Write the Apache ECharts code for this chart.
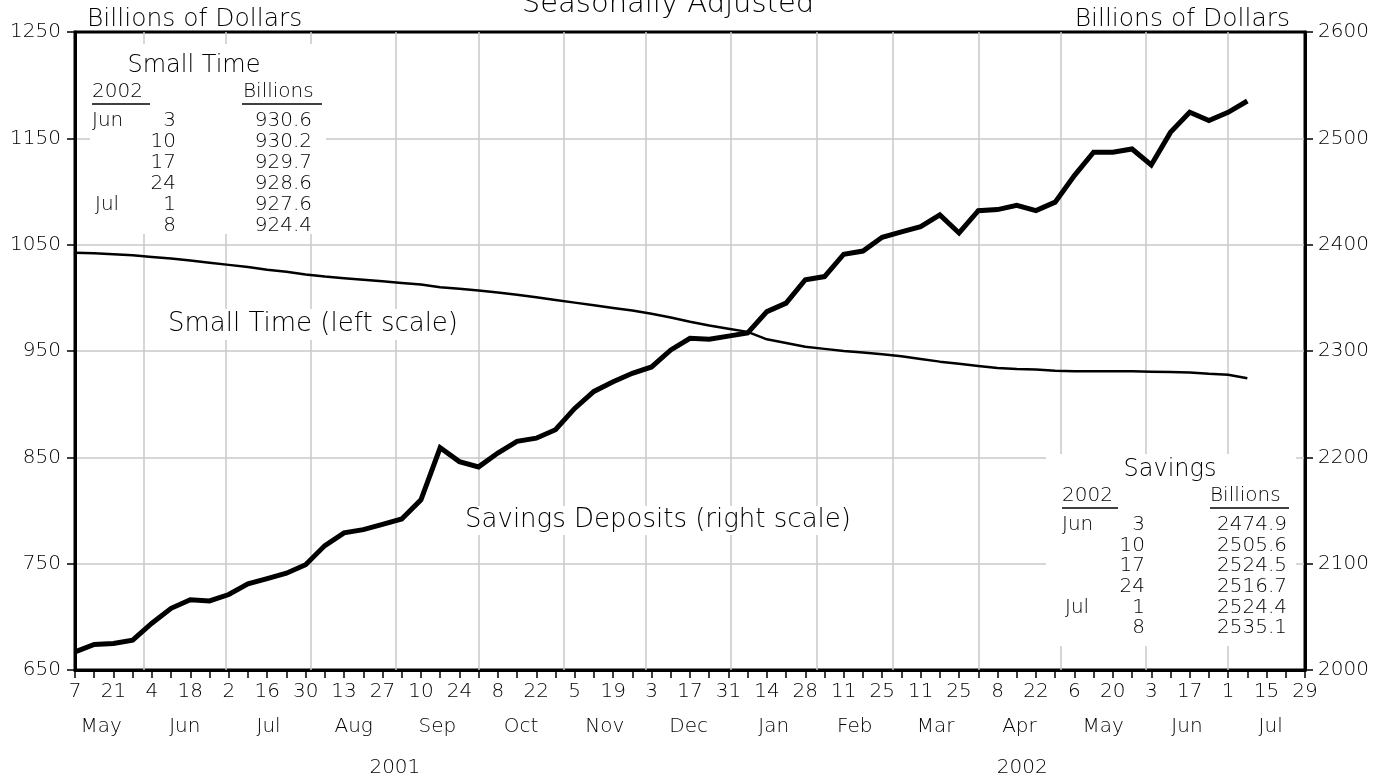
<!DOCTYPE html>
<html><head><meta charset="utf-8">
<script src="https://cdn.jsdelivr.net/npm/echarts@6/dist/echarts.min.js"></script>
<style>html,body{margin:0;padding:0;background:#fff}#c{width:1387px;height:780px}</style>
</head><body><div id="c"></div>
<script>
// ---- data ----
const dayLabels = ['7','21','4','18','2','16','30','13','27','10','24','8','22','5','19','3','17','31','14','28','11','25','11','25','8','22','6','20','3','17','1','15','29'];
const monthLabels = ['May','Jun','Jul','Aug','Sep','Oct','Nov','Dec','Jan','Feb','Mar','Apr','May','Jun','Jul'];
const yearLabels = ['2001','2002'];
// weekly values, May 7 2001 .. Jul 8 2002
const smallTime = [1042.5,1042,1041,1040,1038.5,1037,1035,1033,1031,1029,1026.5,1024.5,1022,1020,1018.5,1017,1015.5,1014,1012.5,1010,1008.5,1007,1005,1003,1000.5,998,995.5,993,990.5,988,985,981.5,977.5,974,971,968,961,957.5,954,952,950,948.5,947,945,942.5,940,938,936,934,933,932.5,931.5,931,931,931,931,930.6,930.2,929.7,928.6,927.6,924.4];
const savings = [2017,2024,2025,2028,2044,2058,2066,2065,2071,2081,2086,2091,2099,2117,2129,2132,2137,2142,2160,2209,2196,2191,2204,2215,2218,2226,2246,2262,2271,2279,2285,2301,2312,2311,2314,2317,2337,2345,2367,2370,2391,2394,2407,2412,2417,2428,2411,2432,2433,2437,2432,2440,2465,2487,2487,2490,2474.9,2505.6,2524.5,2516.7,2524.4,2535.1];
const tableMonths = ['Jun','','','','Jul',''];
const tableDays = ['3','10','17','24','1','8'];
const smallTimeTable = ['930.6','930.2','929.7','928.6','927.6','924.4'];
const savingsTable = ['2474.9','2505.6','2524.5','2516.7','2524.4','2535.1'];

// ---- layout helpers ----
const FONT = 'DejaVu Sans';
const T0 = Date.UTC(2001,4,7);
const wk = (y,m,d) => (Date.UTC(y,m,d) - T0) / (7*86400000);
const monthStarts = [];
for (let k = 5; k <= 18; k++) monthStarts.push(wk(2001,k,1));
const monthMids = [];
for (let k = 4; k <= 18; k++) monthMids.push((wk(2001,k,1) + wk(2001,k+1,1)) / 2);
const yearMids = [(wk(2001,4,1) + wk(2002,0,1)) / 2, (wk(2002,0,1) + wk(2002,7,1)) / 2];
const nearestLabel = (vals, labels, v) => {
  let bi = 0, bd = 1e9;
  vals.forEach((x,i) => { const d = Math.abs(x - v); if (d < bd) { bd = d; bi = i; } });
  return bd < 0.01 ? labels[bi] : '';
};

const stData = smallTime.map((v,i) => [i, v]);
const svData = savings.map((v,i) => [i, v]);

const lab = {color:'#000', fontFamily: FONT, fontSize: 20, fontWeight: 200};
const txt = (text, x, y, size, align) => ({type:'text', x, y, z: 20, style:{text, font: '200 ' + size + 'px "' + FONT + '"', fill:'#000', textAlign: align || 'left', textVerticalAlign:'middle'}});
const rect = (x, y, w, h) => ({type:'rect', z: 15, shape:{x, y, width:w, height:h}, style:{fill:'#fff'}});
const uline = (x1, x2, y) => ({type:'line', z: 20, shape:{x1, y1:y, x2, y2:y}, style:{stroke:'#000', lineWidth:1.5}});

const graphics = [
  txt('Billions of Dollars', 87, 19, 25),
  txt('Billions of Dollars', 1290, 19, 25, 'right'),
  txt('Seasonally Adjusted', 668, 4, 29, 'center'),
  rect(160, 309, 306, 31), txt('Small Time (left scale)', 313, 324, 26, 'center'),
  rect(460, 506, 398, 29), txt('Savings Deposits (right scale)', 658, 520, 26, 'center'),
  rect(90, 44, 236, 190),
  txt('Small Time', 194, 66, 24, 'center'),
  txt('2002', 92, 92, 20), uline(92, 150, 104),
  txt('Billions', 243, 92, 20), uline(242, 322, 104),
  rect(1046, 454, 250, 192),
  txt('Savings', 1170, 470, 24, 'center'),
  txt('2002', 1062, 496, 20), uline(1062, 1118, 508),
  txt('Billions', 1210, 496, 20), uline(1210, 1289, 508)
];
tableDays.forEach((d,i) => {
  const y1 = 121 + i*20.9, y2 = 525 + i*20.6;
  if (tableMonths[i]) {
    graphics.push(txt(tableMonths[i], tableMonths[i]==='Jul' ? 95 : 92, y1, 20));
    graphics.push(txt(tableMonths[i], tableMonths[i]==='Jul' ? 1065 : 1062, y2, 20));
  }
  graphics.push(txt(d, 176, y1, 20, 'right'));
  graphics.push(txt(smallTimeTable[i], 312, y1, 20, 'right'));
  graphics.push(txt(d, 1145, y2, 20, 'right'));
  graphics.push(txt(savingsTable[i], 1287, y2, 20, 'right'));
});

const gridColor = '#c8c8c8';
const chart = echarts.init(document.getElementById('c'), null, {renderer:'canvas'});
chart.setOption({
  animation: false,
  backgroundColor: '#fff',
  grid: {left: 75, right: 82, top: 32, bottom: 110, show: true, borderColor: '#000', borderWidth: 3, backgroundColor: 'transparent'},
  xAxis: [
    {type:'value', min:0, max:64, interval:1, position:'bottom',
     axisLine:{show:true, onZero:false, lineStyle:{color:'#000', width:3}},
     axisTick:{show:true, length:8, lineStyle:{color:'#000', width:1.5}},
     axisLabel:Object.assign({}, lab, {margin:12, formatter: v => (v % 2 === 0 ? dayLabels[v/2] : '')}),
     splitLine:{show:false}},
    {type:'value', min:0, max:64, position:'bottom',
     axisLine:{show:false}, axisTick:{show:false},
     axisLabel:Object.assign({}, lab, {margin:47, customValues: monthMids, formatter: v => nearestLabel(monthMids, monthLabels, v)}),
     splitLine:{show:false}},
    {type:'value', min:0, max:64, position:'bottom',
     axisLine:{show:false}, axisTick:{show:false},
     axisLabel:Object.assign({}, lab, {margin:88, customValues: yearMids, formatter: v => nearestLabel(yearMids, yearLabels, v)}),
     splitLine:{show:false}}
  ],
  yAxis: [
    {type:'value', min:650, max:1250, interval:100, position:'left',
     axisLine:{show:true, onZero:false, lineStyle:{color:'#000', width:3}},
     axisTick:{show:true, length:8, lineStyle:{color:'#000', width:1.5}},
     axisLabel:Object.assign({}, lab, {margin:14, formatter: v => String(v)}),
     splitLine:{show:true, showMinLine:false, showMaxLine:false, lineStyle:{color:gridColor, width:1.5}}},
    {type:'value', min:2000, max:2600, interval:100, position:'right',
     axisLine:{show:true, onZero:false, lineStyle:{color:'#000', width:3}},
     axisTick:{show:true, length:8, lineStyle:{color:'#000', width:1.5}},
     axisLabel:Object.assign({}, lab, {margin:13, formatter: v => String(v)}),
     splitLine:{show:false}}
  ],
  graphic: graphics,
  series: [
    {type:'line', name:'gridlines', xAxisIndex:0, yAxisIndex:0, data:[], z:1, silent:true,
     markLine:{silent:true, symbol:['none','none'], label:{show:false}, animation:false,
       lineStyle:{color:gridColor, width:1.5, type:'solid'},
       data: monthStarts.map(w => ({xAxis: w}))}},
    {type:'line', name:'Small Time', xAxisIndex:0, yAxisIndex:0, data: stData, showSymbol:false, symbol:'none', z:5,
     lineStyle:{color:'#000', width:2.5}},
    {type:'line', name:'Savings Deposits', xAxisIndex:0, yAxisIndex:1, data: svData, showSymbol:false, symbol:'none', z:6,
     lineStyle:{color:'#000', width:5, join:'miter'}}
  ]
});
</script></body></html>
